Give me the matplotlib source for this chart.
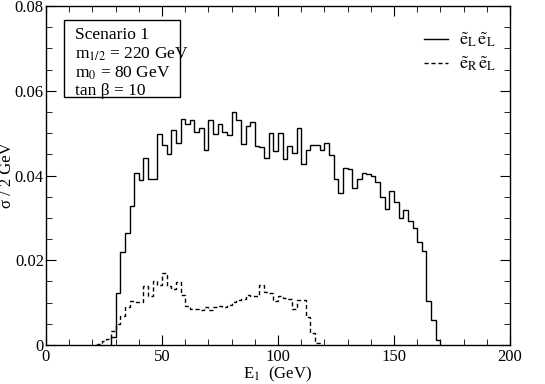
import numpy as np
import matplotlib
matplotlib.use('Agg')
import matplotlib.pyplot as plt
from matplotlib.patches import Rectangle
from matplotlib.ticker import MultipleLocator, FuncFormatter

plt.rcParams['font.family'] = ['Liberation Serif', 'DejaVu Serif']
plt.rcParams['mathtext.fontset'] = 'stix'

# histogram bins are 2 GeV wide
bin_width = 2.0

# e_L e_L (solid), first bin starts at 28 GeV
eLeL_start = 28
eLeL = [0.0020, 0.0123, 0.0220, 0.0265, 0.0328, 0.0405, 0.0389, 0.0442, 0.0391, 0.0392,
        0.0497, 0.0471, 0.0450, 0.0508, 0.0477, 0.0534, 0.0521, 0.0530, 0.0503, 0.0513,
        0.0460, 0.0532, 0.0499, 0.0522, 0.0503, 0.0495, 0.0550, 0.0532, 0.0475, 0.0516,
        0.0526, 0.0470, 0.0467, 0.0442, 0.0500, 0.0458, 0.0501, 0.0440, 0.0469, 0.0452,
        0.0513, 0.0426, 0.0460, 0.0473, 0.0473, 0.0461, 0.0477, 0.0448, 0.0391, 0.0358,
        0.0417, 0.0415, 0.0371, 0.0391, 0.0407, 0.0403, 0.0399, 0.0385, 0.0350, 0.0320,
        0.0364, 0.0338, 0.0299, 0.0318, 0.0293, 0.0275, 0.0244, 0.0222, 0.0104, 0.0059,
        0.0012]

# e_R e_L (dashed), first bin starts at 22 GeV
eReL_start = 22
eReL = [0.0003, 0.0010, 0.0014, 0.0034, 0.0050, 0.0069, 0.0089, 0.0105, 0.0101, 0.0101,
        0.0140, 0.0116, 0.0152, 0.0142, 0.0171, 0.0140, 0.0132, 0.0149, 0.0118, 0.0093,
        0.0086, 0.0085, 0.0083, 0.0090, 0.0082, 0.0089, 0.0091, 0.0089, 0.0094, 0.0101,
        0.0107, 0.0108, 0.0118, 0.0116, 0.0115, 0.0142, 0.0124, 0.0123, 0.0105, 0.0116,
        0.0112, 0.0108, 0.0085, 0.0107, 0.0106, 0.0066, 0.0029, 0.0004]

box_lines = ['Scenario 1', r'm$_{1/2}$ = 220 GeV', r'm$_0$ = 80 GeV', 'tan β = 10']

fig = plt.figure(figsize=(5.45, 3.84), dpi=100)
ax = fig.add_axes([46/545, 1-345/384, 464/545, 339/384])

edges1 = eLeL_start + bin_width*np.arange(len(eLeL)+1)
edges2 = eReL_start + bin_width*np.arange(len(eReL)+1)
ax.stairs(eLeL, edges1, color='black', lw=1.0,
          label=r'$\tilde{\mathrm{e}}_{\mathrm{L}}\,\tilde{\mathrm{e}}_{\mathrm{L}}$')
ax.stairs(eReL, edges2, color='black', lw=1.0, linestyle=(0, (3, 2)),
          label=r'$\tilde{\mathrm{e}}_{\mathrm{R}}\,\tilde{\mathrm{e}}_{\mathrm{L}}$')

ax.set_xlim(0, 200)
ax.set_ylim(0, 0.08)
ax.xaxis.set_major_locator(MultipleLocator(50))
ax.xaxis.set_minor_locator(MultipleLocator(10))
ax.yaxis.set_major_locator(MultipleLocator(0.02))
ax.yaxis.set_minor_locator(MultipleLocator(0.005))
ax.yaxis.set_major_formatter(FuncFormatter(lambda v, p: '0' if v == 0 else '%.2f' % v))
ax.tick_params(which='both', direction='in', top=True, right=True, labelsize=12)
ax.tick_params(which='major', length=7)
ax.tick_params(axis='x', which='major', pad=3)
ax.tick_params(axis='y', which='major', pad=1.5)
ax.tick_params(which='minor', length=4)
for s in ax.spines.values():
    s.set_linewidth(1.0)

ax.set_xlabel(r'E$_1$  (GeV)', fontsize=12)
ax.xaxis.set_label_coords(0.5, -0.057)
ax.set_ylabel('σ / 2 GeV', fontsize=12)
ax.yaxis.set_label_coords(-0.066, 0.5)

# info box
ax.add_patch(Rectangle((0.0388, 0.7316), 0.250, 0.227, transform=ax.transAxes,
                       fill=False, ec='black', lw=1.0))
ys = [0.914, 0.858, 0.802, 0.749]
for t, y in zip(box_lines, ys):
    ax.text(0.0625, y, t, transform=ax.transAxes, fontsize=12.5, va='center')

ax.legend(loc='upper right', bbox_to_anchor=(1.005, 0.975), frameon=False,
          handlelength=1.3, handletextpad=0.6, fontsize=13, labelspacing=0.3)

fig.savefig('out.png', dpi=100)
